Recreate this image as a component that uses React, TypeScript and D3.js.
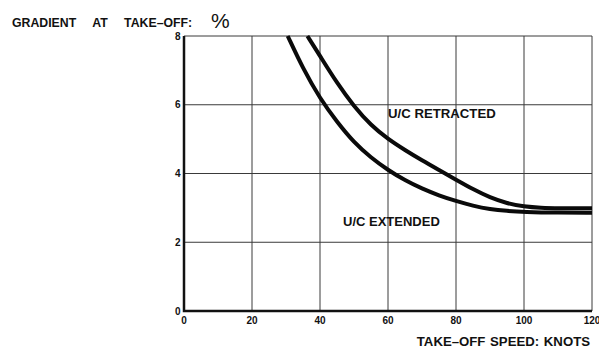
import React, { useRef, useEffect } from "react";
import * as d3 from "d3";

const speedTicks = [0, 20, 40, 60, 80, 100, 120];
const gradientTicks = [0, 2, 4, 6, 8];

const extendedSpeed = [30.5, 35, 40, 45, 50, 55, 60, 65, 70, 75, 80, 85, 90, 95, 100, 110, 120];
const extendedGradient = [8, 7.05, 6.18, 5.5, 4.9, 4.46, 4.1, 3.8, 3.56, 3.36, 3.2, 3.06, 2.96, 2.91, 2.88, 2.86, 2.86];

const retractedSpeed = [36.3, 40, 45, 50, 55, 60, 65, 70, 75, 80, 85, 90, 95, 100, 105, 110, 120];
const retractedGradient = [8, 7.42, 6.63, 5.95, 5.4, 5.0, 4.68, 4.38, 4.1, 3.82, 3.54, 3.3, 3.13, 3.04, 3.0, 2.99, 2.99];

const drawChart = (svgRef) => {
	const width = 599,
		height = 348;
	const svg = d3.select(svgRef.current);
	svg.selectAll("*").remove();
	svg.attr("width", width).attr("height", height);

	svg.append("rect").attr("width", width).attr("height", height).attr("fill", "#fff");

	const x = d3.scaleLinear().domain([0, 120]).range([184, 592]);
	const y = d3.scaleLinear().domain([0, 8]).range([311, 36]);

	const font = "'Liberation Sans', Arial, sans-serif";

	// grid
	const grid = svg.append("g").attr("stroke", "#3a3a3a").attr("stroke-width", 1);
	grid
		.selectAll("line.v")
		.data(speedTicks.slice(1))
		.enter()
		.append("line")
		.attr("x1", (d) => x(d))
		.attr("x2", (d) => x(d))
		.attr("y1", y(0))
		.attr("y2", y(8));
	grid
		.selectAll("line.h")
		.data(gradientTicks.slice(1))
		.enter()
		.append("line")
		.attr("x1", x(0))
		.attr("x2", x(120))
		.attr("y1", (d) => y(d))
		.attr("y2", (d) => y(d));

	// main axes
	svg
		.append("path")
		.attr("d", `M${x(0)},${y(8)}V${y(0)}H${x(120)}`)
		.attr("fill", "none")
		.attr("stroke", "#111")
		.attr("stroke-width", 2.5);

	// tick labels
	svg
		.append("g")
		.selectAll("text")
		.data(speedTicks)
		.enter()
		.append("text")
		.attr("x", (d) => x(d))
		.attr("y", y(0) + 13)
		.attr("text-anchor", "middle")
		.attr("font-family", font)
		.attr("font-weight", "bold")
		.attr("font-size", 10)
		.attr("fill", "#111")
		.text((d) => d);

	svg
		.append("g")
		.selectAll("text")
		.data(gradientTicks)
		.enter()
		.append("text")
		.attr("x", x(0) - 3.5)
		.attr("y", (d) => y(d) + 3.5)
		.attr("text-anchor", "end")
		.attr("font-family", font)
		.attr("font-weight", "bold")
		.attr("font-size", 10)
		.attr("fill", "#111")
		.text((d) => d);

	// curves
	const line = d3
		.line()
		.x((d) => x(d[0]))
		.y((d) => y(d[1]))
		.curve(d3.curveBasis);

	const curves = [
		d3.zip(extendedSpeed, extendedGradient),
		d3.zip(retractedSpeed, retractedGradient),
	];
	svg
		.append("g")
		.selectAll("path")
		.data(curves)
		.enter()
		.append("path")
		.attr("d", line)
		.attr("fill", "none")
		.attr("stroke", "#0a0a0a")
		.attr("stroke-width", 4);

	// labels
	const label = (tx, ty, s, size, anchor = "start") =>
		svg
			.append("text")
			.attr("x", tx)
			.attr("y", ty)
			.attr("text-anchor", anchor)
			.attr("font-family", font)
			.attr("font-weight", "bold")
			.attr("font-size", size)
			.attr("fill", "#111")
			.text(s);

	label(388, 118, "U/C RETRACTED", 13.2);
	label(343, 226, "U/C EXTENDED", 13);
	label(12, 27, "GRADIENT AT TAKE\u2013OFF:", 12.3).attr("word-spacing", 13);
	label(211, 28, "%", 21).attr("font-weight", "normal");
	label(590, 346, "TAKE\u2013OFF  SPEED: KNOTS", 13.2, "end").attr("word-spacing", 1);
};

const App = () => {
	const svg = useRef(null);

	useEffect(() => {
		drawChart(svg);
	}, []);

	return (
		<div>
			<svg ref={svg} style={{ position: "absolute", left: 0, top: 0 }} />
		</div>
	);
};

export default App;
